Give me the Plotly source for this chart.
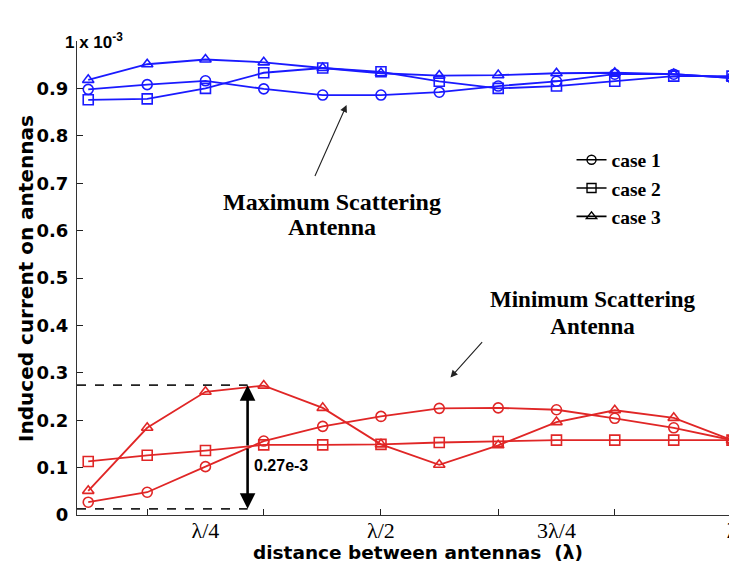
import plotly.graph_objects as go

# distance between antennas, in wavelengths
distance = [0.083, 0.167, 0.25, 0.333, 0.417, 0.5, 0.583, 0.667, 0.75, 0.833, 0.917, 1.0]

# induced current (x 1e-3) on the maximum scattering antenna
max_case1 = [0.898, 0.908, 0.916, 0.899, 0.886, 0.886, 0.892, 0.905, 0.915, 0.930, 0.930, 0.922]
max_case2 = [0.876, 0.878, 0.900, 0.933, 0.943, 0.935, 0.915, 0.900, 0.905, 0.915, 0.926, 0.926]
max_case3 = [0.918, 0.951, 0.961, 0.955, 0.943, 0.932, 0.927, 0.928, 0.932, 0.933, 0.930, 0.922]

# induced current (x 1e-3) on the minimum scattering antenna
min_case1 = [0.027, 0.048, 0.102, 0.156, 0.187, 0.208, 0.225, 0.226, 0.222, 0.204, 0.184, 0.158]
min_case2 = [0.113, 0.126, 0.136, 0.148, 0.148, 0.149, 0.153, 0.155, 0.158, 0.158, 0.158, 0.158]
min_case3 = [0.051, 0.184, 0.260, 0.273, 0.226, 0.149, 0.106, 0.147, 0.196, 0.221, 0.205, 0.158]

case_names = ["case 1", "case 2", "case 3"]
case_symbols = ["circle-open", "square-open", "triangle-up-open"]

x_ticks = [0.167, 0.333, 0.5, 0.667, 0.833, 1.0]
x_label_vals = [0.25, 0.5, 0.75, 1.0]
x_label_text = ["λ/4", "λ/2", "3λ/4", "λ"]
y_ticks = [0, 0.1, 0.2, 0.3, 0.4, 0.5, 0.6, 0.7, 0.8, 0.9]
y_tick_text = ["0", "0.1", "0.2", "0.3", "0.4", "0.5", "0.6", "0.7", "0.8", "0.9"]

x_range = [0.067, 1.0]
y_range = [0, 1.0]

# difference marker
gap_x = 0.31
gap_top = 0.274
gap_bottom = 0.013

BLUE = "#1a1aff"
RED = "#e02626"

fig = go.Figure()

for vals, sym in zip([max_case1, max_case2, max_case3], case_symbols):
    fig.add_trace(go.Scatter(x=distance, y=vals, mode="lines+markers",
                             line=dict(color=BLUE, width=1.8),
                             marker=dict(symbol=sym, size=10, color=BLUE, line=dict(width=1.6, color=BLUE)),
                             showlegend=False))
for vals, sym in zip([min_case1, min_case2, min_case3], case_symbols):
    fig.add_trace(go.Scatter(x=distance, y=vals, mode="lines+markers",
                             line=dict(color=RED, width=1.8),
                             marker=dict(symbol=sym, size=10, color=RED, line=dict(width=1.6, color=RED)),
                             showlegend=False))
for name, sym in zip(case_names, case_symbols):
    fig.add_trace(go.Scatter(x=[None], y=[None], mode="lines+markers", name=name,
                             line=dict(color="black", width=1.6),
                             marker=dict(symbol=sym, size=9, color="black", line=dict(width=1.4, color="black"))))

# dummy trace on the label axis
fig.add_trace(go.Scatter(x=[None], y=[None], xaxis="x2", showlegend=False, hoverinfo="skip"))

fig.update_layout(
    width=737, height=563, autosize=False,
    margin=dict(l=69, r=7, t=33, b=56),
    paper_bgcolor="white", plot_bgcolor="white",
    xaxis=dict(range=x_range, tickmode="array", tickvals=x_ticks, showticklabels=False,
               ticks="inside", ticklen=6, tickcolor="#222", tickwidth=1,
               showline=True, linecolor="#333", linewidth=1.2, showgrid=False, zeroline=False),
    xaxis2=dict(range=x_range, overlaying="x", anchor="y", side="bottom",
                tickmode="array", tickvals=x_label_vals, ticktext=x_label_text,
                ticks="", showline=False, showgrid=False, zeroline=False,
                tickfont=dict(family="Liberation Serif", size=22, color="black"),
                ticklabelstandoff=0),
    yaxis=dict(range=y_range, tickmode="array", tickvals=y_ticks, ticktext=y_tick_text,
               ticks="inside", ticklen=6, tickcolor="#222", tickwidth=1,
               showline=True, linecolor="#333", linewidth=1.2, showgrid=False, zeroline=False,
               ticklabelstandoff=4,
               tickfont=dict(family="DejaVu Sans", size=18, color="black", weight="bold")),
    legend=dict(x=0.755, y=0.79, xanchor="left", yanchor="top",
                bgcolor="rgba(0,0,0,0)", borderwidth=0, tracegroupgap=0,
                font=dict(family="Liberation Serif", size=19.5, color="black", weight="bold")),
    showlegend=True,
)

# dashed reference lines
fig.add_shape(type="line", xref="x", yref="y", x0=x_range[0], x1=gap_x, y0=gap_top, y1=gap_top,
              line=dict(color="#222", width=1.6, dash="dash"))
fig.add_shape(type="line", xref="x", yref="y", x0=x_range[0], x1=gap_x, y0=gap_bottom, y1=gap_bottom,
              line=dict(color="#222", width=1.6, dash="dash"))

gap_mid = (gap_top + gap_bottom) / 2
for tip in (gap_top, gap_bottom):
    fig.add_annotation(x=gap_x, y=tip, ax=gap_x, ay=gap_mid, xref="x", yref="y",
                       axref="x", ayref="y", text="", showarrow=True,
                       arrowhead=2, arrowsize=1.2, arrowwidth=2.6, arrowcolor="black", standoff=0)

fig.add_annotation(x=0.316, y=0.105, xref="x", yref="y", text="0.27e-3", showarrow=False,
                   xanchor="left", yanchor="middle",
                   font=dict(family="Liberation Sans", size=16, color="black", weight="bold"))

# Maximum scattering label and arrow
fig.add_annotation(x=0.451, y=0.865, ax=0.405, ay=0.712, xref="x", yref="y", axref="x", ayref="y",
                   text="", showarrow=True, arrowhead=2, arrowsize=1.3, arrowwidth=1.1,
                   arrowcolor="#222", standoff=0)
fig.add_annotation(x=0.430, y=0.633, xref="x", yref="y",
                   text="<span style='font-size:24px'>Maximum Scattering</span><br>"
                        "<span style='font-size:24px'>Antenna</span>",
                   showarrow=False, align="center",
                   font=dict(family="Liberation Serif", size=19, color="black", weight="bold"))

# Minimum scattering label and arrow
fig.add_annotation(x=0.599, y=0.290, ax=0.646, ay=0.368, xref="x", yref="y", axref="x", ayref="y",
                   text="", showarrow=True, arrowhead=2, arrowsize=1.3, arrowwidth=1.1,
                   arrowcolor="#222", standoff=0)
fig.add_annotation(x=0.802, y=0.426, xref="x", yref="y",
                   text="<span style='font-size:23px'>Minimum Scattering</span><br>"
                        "<span style='font-size:23px'>Antenna</span>",
                   showarrow=False, align="center",
                   font=dict(family="Liberation Serif", size=21, color="black", weight="bold"))

# exponent label
fig.add_annotation(x=-0.021, y=1.0, xref="paper", yref="paper", text="1 x 10<sup>-3</sup>",
                   showarrow=False, xanchor="left", yanchor="middle",
                   font=dict(family="Liberation Sans", size=17, color="black", weight="bold"))

# axis titles
fig.add_annotation(x=-0.078, y=0.5, xref="paper", yref="paper", text="Induced current on antennas",
                   showarrow=False, textangle=-90, xanchor="center", yanchor="middle",
                   font=dict(family="DejaVu Sans", size=20, color="black", weight="bold"))
fig.add_annotation(x=0.52, y=-0.079, xref="paper", yref="paper", text="distance between antennas  (λ)",
                   showarrow=False, xanchor="center", yanchor="middle",
                   font=dict(family="DejaVu Sans", size=18.5, color="black", weight="bold"))

fig.write_html("out.html")
